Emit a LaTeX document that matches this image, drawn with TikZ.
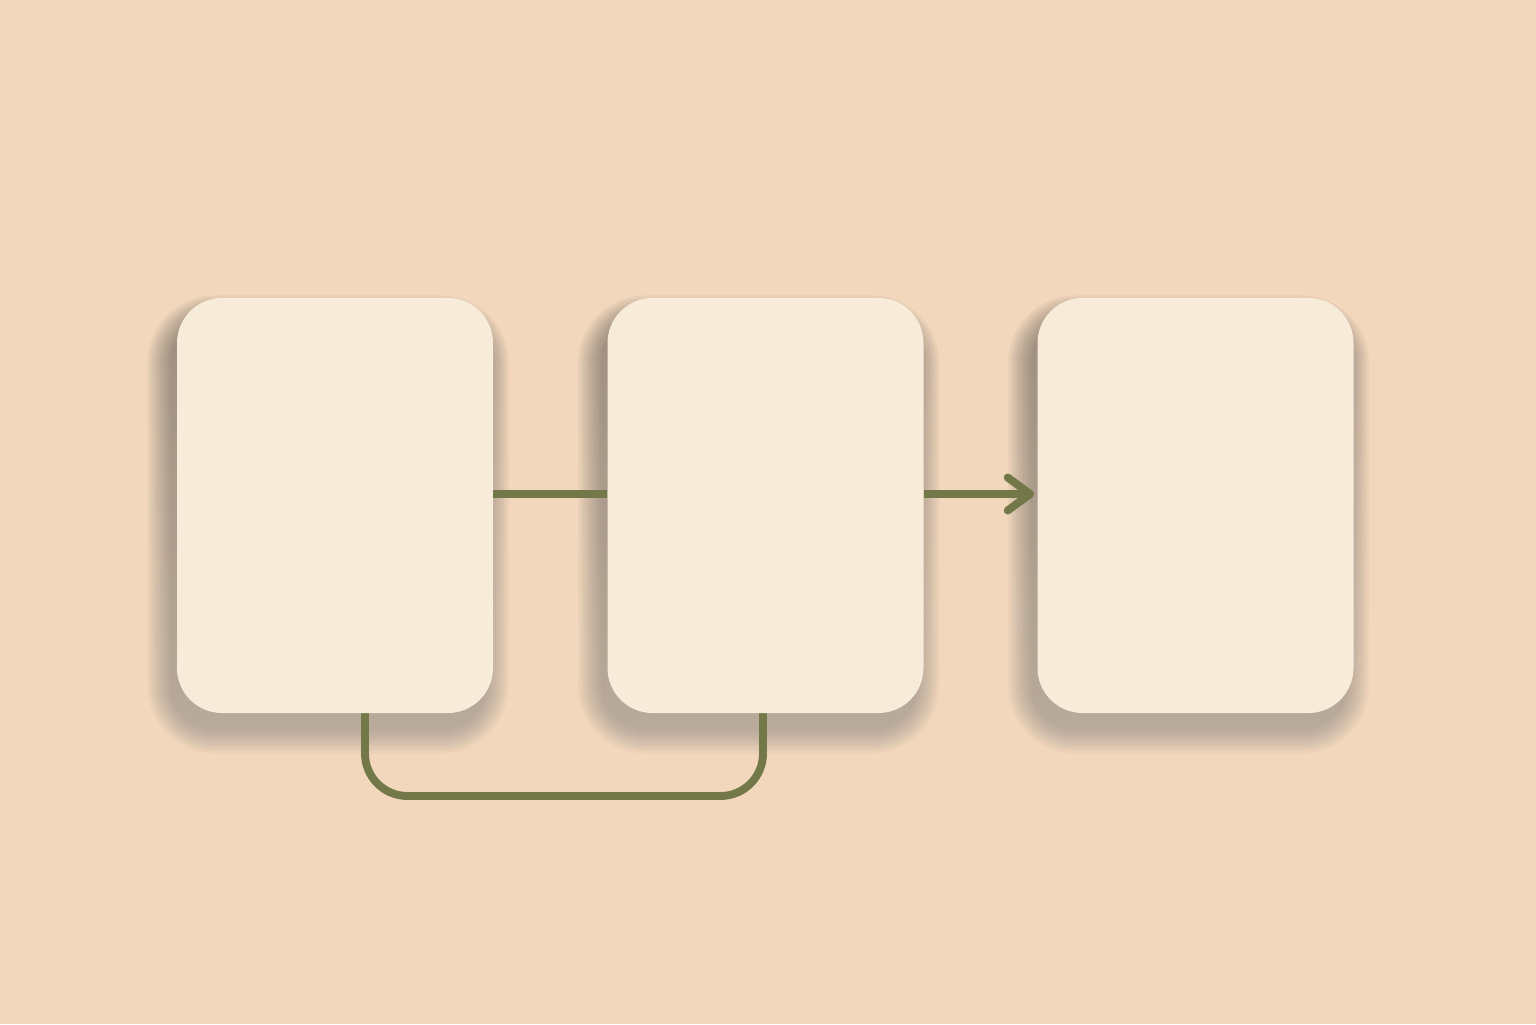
\documentclass[tikz,border=0pt]{standalone}
\usetikzlibrary{arrows.meta}
\definecolor{paper}{HTML}{F2D7BC}
\definecolor{cardfill}{HTML}{F7EBDA}
\definecolor{olive}{HTML}{737849}
\definecolor{shade}{HTML}{7A5230}
\tikzset{
  card/.style={fill=cardfill, rounded corners=0.9cm, minimum width=6.32cm, minimum height=8.3cm},
  link/.style={draw=olive, line width=4.5pt, line cap=round}
}
\begin{document}
\begin{tikzpicture}
        % background
        \fill[paper] (0,0) rectangle (30.72,20.48);
        \useasboundingbox (0,0) rectangle (30.72,20.48);
        % shadows
        \foreach \cx in {6.7,15.31,23.91}
          \foreach \g in {0,0.05,...,0.5}
            \fill[shade, opacity=0.028, rounded corners=0.9cm+\g cm]
              (\cx-3.16-0.14-\g, 10.37-4.15-0.36-\g) rectangle (\cx+3.16-0.14+\g, 10.37+4.15-0.4+\g);
        % edges (drawn first, cards cover the ends)
        \coordinate (l1) at (7.3,4.56);
        \coordinate (l2) at (15.26,4.56);
        \draw[link, rounded corners=0.85cm] (7.3,6.5) -- (l1) -- (l2) -- (15.26,6.5);
        % nodes
        \node[card] (c1) at (6.7,10.37) {};
        \node[card] (c2) at (15.31,10.37) {};
        \node[card] (c3) at (23.91,10.37) {};
        % edges
        \draw[link, line cap=butt] ([yshift=0.23cm]c1.east) -- ([yshift=0.23cm]c2.west);
        \draw[link, line cap=butt, -{Straight Barb[length=0.45cm, width=0.66cm, round]}] ([yshift=0.23cm]c2.east) -- ([yshift=0.23cm, xshift=-0.06cm]c3.west);
\end{tikzpicture}
\end{document}
